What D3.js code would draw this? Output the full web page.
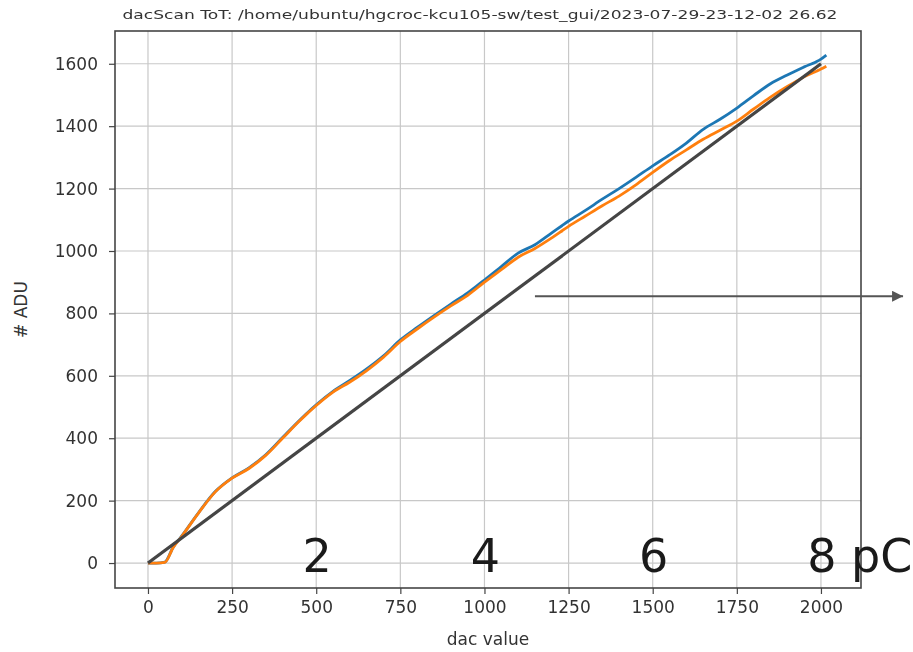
<!DOCTYPE html>
<html>
<head>
<meta charset="utf-8">
<script src="https://cdn.jsdelivr.net/npm/d3@7"></script>
<style>
  body { margin: 0; background: #fff; }
  svg { display: block; }
  text { font-family: "DejaVu Sans", sans-serif; fill: #333; }
</style>
</head>
<body>
<div id="chart"></div>
<script>
// dac scan values
const dac = [0, 25, 50, 75, 100, 150, 200, 250, 300, 350, 400, 450, 500, 550, 600, 650, 700, 750, 800, 850, 900, 950,
  1000, 1050, 1100, 1150, 1200, 1250, 1300, 1350, 1400, 1450, 1500, 1550, 1600, 1650, 1700, 1750, 1800, 1850, 1900, 1950, 2000, 2016];
const adcBlue = [0, 0, 3, 51, 86, 161, 229, 273, 305, 347, 402, 457, 507, 550, 585, 622, 664, 715, 755, 793, 830, 866,
  907, 950, 993, 1020, 1058, 1096, 1130, 1166, 1200, 1236, 1273, 1308, 1346, 1390, 1422, 1458, 1498, 1536, 1564, 1590, 1615, 1628];
const adcOrange = [0, 0, 2, 50, 85, 160, 228, 272, 303, 345, 400, 455, 505, 548, 580, 617, 660, 710, 750, 788, 824, 858,
  900, 940, 980, 1008, 1042, 1079, 1112, 1145, 1176, 1212, 1252, 1290, 1324, 1358, 1387, 1416, 1455, 1493, 1527, 1558, 1583, 1592];

const xTicks = [0, 250, 500, 750, 1000, 1250, 1500, 1750, 2000];
const yTicks = [0, 200, 400, 600, 800, 1000, 1200, 1400, 1600];

// reference line and hand-drawn notes
const refLine = [[0, 0], [2000, 1600]];
const pcLabels = [[500, "2"], [1000, "4"], [1500, "6"], [2000, "8 pC"]];
const arrowLine = [[1150, 855], [2244, 855]];

const title = "dacScan ToT: /home/ubuntu/hgcroc-kcu105-sw/test_gui/2023-07-29-23-12-02 26.62";

const W = 913, H = 652;
const margin = {top: 31, right: 52, bottom: 64, left: 115};

const svg = d3.select("#chart").append("svg")
  .attr("width", W).attr("height", H);

const defs = svg.append("defs");
defs.append("filter").attr("id", "soft")
  .append("feGaussianBlur").attr("stdDeviation", 0.6);
defs.append("marker").attr("id", "head")
  .attr("viewBox", "0 0 10 10").attr("refX", 10).attr("refY", 5)
  .attr("markerWidth", 7).attr("markerHeight", 5.5)
  .attr("markerUnits", "strokeWidth").attr("orient", "auto")
  .append("path").attr("d", "M0,0L10,5L0,10Z").attr("fill", "#555");

const x = d3.scaleLinear().domain([-98, 2119]).range([margin.left, W - margin.right]);
const y = d3.scaleLinear().domain([-80, 1705]).range([H - margin.bottom, margin.top]);

const g = svg.append("g").attr("filter", "url(#soft)");

// grid
g.append("g").selectAll("line").data(xTicks).join("line")
  .attr("x1", d => x(d)).attr("x2", d => x(d))
  .attr("y1", margin.top).attr("y2", H - margin.bottom)
  .attr("stroke", "#c8c8c8").attr("stroke-width", 1.2);
g.append("g").selectAll("line").data(yTicks).join("line")
  .attr("y1", d => y(d)).attr("y2", d => y(d))
  .attr("x1", margin.left).attr("x2", W - margin.right)
  .attr("stroke", "#c8c8c8").attr("stroke-width", 1.2);

// axes
const xAxis = g.append("g").attr("transform", `translate(0,${H - margin.bottom})`)
  .call(d3.axisBottom(x).tickValues(xTicks).tickFormat(d3.format("d")).tickSize(6).tickPadding(7));
const yAxis = g.append("g").attr("transform", `translate(${margin.left},0)`)
  .call(d3.axisLeft(y).tickValues(yTicks).tickFormat(d3.format("d")).tickSize(6).tickPadding(11));
[xAxis, yAxis].forEach(a => {
  a.select(".domain").remove();
  a.selectAll("line").attr("stroke", "#444").attr("stroke-width", 1.2);
  a.selectAll("text").attr("font-family", "DejaVu Sans").attr("font-size", 17).attr("fill", "#333");
});

// frame
g.append("rect")
  .attr("x", margin.left).attr("y", margin.top)
  .attr("width", W - margin.right - margin.left).attr("height", H - margin.bottom - margin.top)
  .attr("fill", "none").attr("stroke", "#444").attr("stroke-width", 1.6);

const line = d3.line().x(d => x(d[0])).y(d => y(d[1])).curve(d3.curveMonotoneX);

g.append("path").datum(dac.map((d, i) => [d, adcBlue[i]]))
  .attr("d", line).attr("fill", "none").attr("stroke", "#1f77b4").attr("stroke-width", 2.8);
g.append("path").datum(dac.map((d, i) => [d, adcOrange[i]]))
  .attr("d", line).attr("fill", "none").attr("stroke", "#ff7f0e").attr("stroke-width", 2.8);

g.append("path").datum(refLine)
  .attr("d", d3.line().x(d => x(d[0])).y(d => y(d[1])))
  .attr("fill", "none").attr("stroke", "#444").attr("stroke-width", 3.2);

// title and axis labels
svg.append("text").attr("x", 480).attr("y", 19)
  .attr("text-anchor", "middle").attr("font-size", 13)
  .attr("textLength", 715).attr("lengthAdjust", "spacingAndGlyphs")
  .text(title);
svg.append("text").attr("x", (margin.left + W - margin.right) / 2).attr("y", 645)
  .attr("text-anchor", "middle").attr("font-size", 17).text("dac value");
svg.append("text").attr("transform", `translate(27,${(margin.top + H - margin.bottom) / 2}) rotate(-90)`)
  .attr("text-anchor", "middle").attr("font-size", 17).text("# ADU");

// overlays
svg.append("line")
  .attr("x1", x(arrowLine[0][0])).attr("y1", y(arrowLine[0][1]))
  .attr("x2", x(arrowLine[1][0])).attr("y2", y(arrowLine[1][1]))
  .attr("stroke", "#555").attr("stroke-width", 2)
  .attr("marker-end", "url(#head)");

const fs = 46;
svg.append("g").selectAll("text").data(pcLabels).join("text")
  .attr("x", d => x(d[0]) - fs * 0.3).attr("y", 572)
  .attr("font-family", "Liberation Sans, Arial, sans-serif")
  .attr("font-size", fs).style("fill", "#1a1a1a")
  .text(d => d[1]);
</script>
</body>
</html>
